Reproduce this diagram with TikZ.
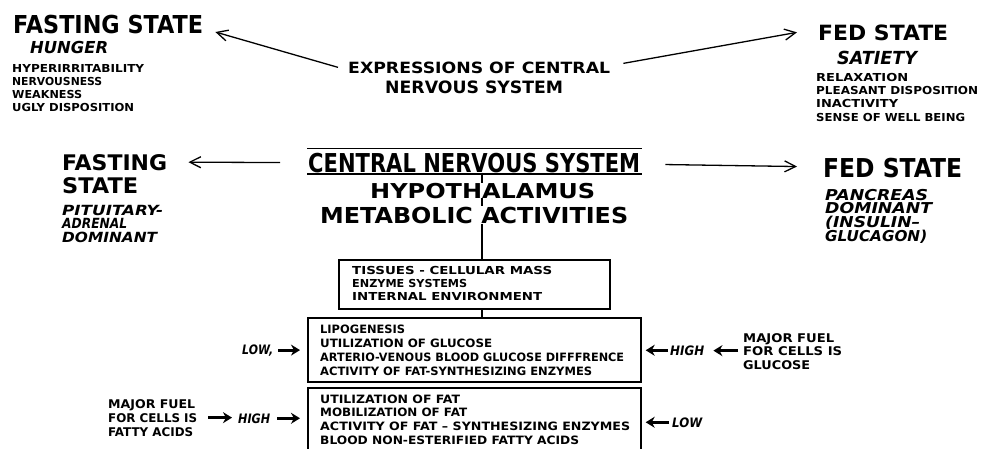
\documentclass[tikz,border=0pt]{standalone}
\usepackage{fontspec}
\setmainfont{DejaVu Sans}
\usepackage{graphicx}
\usetikzlibrary{arrows.meta}
\newsavebox\fitb
\newcommand\fitw[2]{\sbox\fitb{#2}\pgfmathsetmacro\fitf{#1/\wd\fitb}\scalebox{\fitf}[1]{\usebox\fitb}}
\tikzset{
  txt/.style={inner sep=0pt, anchor=base west},
  fs/.style={font=\bfseries\fontsize{#1}{#1}\selectfont},
  fi/.style={font=\bfseries\itshape\fontsize{#1}{#1}\selectfont},
  thinarrow/.style={line width=1.3pt, -{Straight Barb[length=11pt,width=11pt,line width=1.3pt]}},
  fat/.style={line width=3pt, -{Stealth[length=9pt,width=11pt]}},
  conn/.style={line width=1.2pt},
  boxst/.style={draw, line width=1.7pt, inner sep=0pt, anchor=north west},
}
\begin{document}
\begin{tikzpicture}[x=1pt,y=-1pt]
\useasboundingbox (0,0) rectangle (983,448);
\clip (0,0) rectangle (983,448);
% top left
\node[txt,fs=24.7] (fast1) at (13,33) {\fitw{190}{FASTING STATE}};
\node[txt,fi=16.5] (hunger) at (30,53) {\fitw{78}{HUNGER}};
\node[txt,fs=11] (l1) at (12,72) {\fitw{132}{HYPERIRRITABILITY}};
\node[txt,fs=11] (l2) at (12,85) {\fitw{90}{NERVOUSNESS}};
\node[txt,fs=11] (l3) at (12,98) {\fitw{70}{WEAKNESS}};
\node[txt,fs=11] (l4) at (12,111) {\fitw{122}{UGLY DISPOSITION}};
% top right
\node[txt,fs=21] (fed1) at (818,40) {\fitw{130}{FED STATE}};
\node[txt,fi=18] (satiety) at (837,64) {\fitw{80}{SATIETY}};
\node[txt,fs=11] (r1) at (816,81) {\fitw{92}{RELAXATION}};
\node[txt,fs=11] (r2) at (816,94) {\fitw{162}{PLEASANT DISPOSITION}};
\node[txt,fs=11] (r3) at (816,107) {\fitw{82}{INACTIVITY}};
\node[txt,fs=11] (r4) at (816,121) {\fitw{149}{SENSE OF WELL BEING}};
% top centre
\node[txt,fs=15.5] (exp1) at (348,73) {\fitw{262}{EXPRESSIONS OF CENTRAL}};
\node[txt,fs=17] (exp2) at (385,93) {\fitw{178}{NERVOUS SYSTEM}};
\draw[thinarrow] ([xshift=-10pt]exp1.west) -- ([xshift=12pt,yshift=-8pt]fast1.east);
\draw[thinarrow] ([xshift=13pt,yshift=4pt]exp1.east) -- ([xshift=-21pt]fed1.west);
% row 2 left
\node[txt,fs=21.5] (fast2a) at (62,170) {\fitw{105}{FASTING}};
\node[txt,fs=21.5] (fast2b) at (62,193) {\fitw{76}{STATE}};
\node[txt,fi=14] (pit1) at (62,215) {\fitw{101}{PITUITARY-}};
\node[txt,fi=14] (pit2) at (62,228.5) {\fitw{65}{ADRENAL}};
\node[txt,fi=14] (pit3) at (62,242) {\fitw{95}{DOMINANT}};
% row 2 centre
\node[txt,fs=26] (cns) at (308,172) {\fitw{332}{CENTRAL NERVOUS SYSTEM}};
\draw[conn] ([xshift=-1pt,yshift=4pt]cns.north west) -- ([xshift=2pt,yshift=4pt]cns.north east);
\draw[conn] ([xshift=-1pt,yshift=-1.5pt]cns.south west) -- ([xshift=2pt,yshift=-1.5pt]cns.south east);
% row 2 right
\node[txt,fs=26] (fed2) at (823,177) {\fitw{139}{FED STATE}};
\node[txt,fi=15] (pan1) at (825,200) {\fitw{103}{PANCREAS}};
\node[txt,fi=15] (pan2) at (825,213.5) {\fitw{107}{DOMINANT}};
\node[txt,fi=15] (pan3) at (825,227) {\fitw{95}{(INSULIN–}};
\node[txt,fi=15] (pan4) at (825,241) {\fitw{102}{GLUCAGON)}};
\draw[thinarrow] ([xshift=-28pt]cns.west) -- ([xshift=21pt]fast2a.east);
\draw[thinarrow] ([xshift=25pt,yshift=-2pt]cns.east) -- ([xshift=-26pt,yshift=1pt]fed2.west);
% spine
\node[txt,fs=20.5] (hyp) at (370,198) {\fitw{225}{HYPOTHALAMUS}};
\node[txt,fs=22] (met) at (320,223) {\fitw{308}{METABOLIC ACTIVITIES}};
\coordinate (spine) at (482,0);
% boxes
\node[boxst, minimum width=271pt, minimum height=49pt] (box1) at (338,259) {};
\node[txt,fs=11] (b1a) at (352,274) {\fitw{200}{TISSUES - CELLULAR MASS}};
\node[txt,fs=11] (b1b) at (352,287) {\fitw{115}{ENZYME SYSTEMS}};
\node[txt,fs=11] (b1c) at (352,300) {\fitw{190}{INTERNAL ENVIRONMENT}};
\node[boxst, minimum width=333pt, minimum height=64pt] (box2) at (307,317) {};
\node[txt,fs=11.5] (b2a) at (320,333) {\fitw{85}{LIPOGENESIS}};
\node[txt,fs=11.5] (b2b) at (320,347) {\fitw{172}{UTILIZATION OF GLUCOSE}};
\node[txt,fs=11.5] (b2c) at (320,361) {\fitw{304}{ARTERIO-VENOUS BLOOD GLUCOSE DIFFFRENCE}};
\node[txt,fs=11.5] (b2d) at (320,375) {\fitw{272}{ACTIVITY OF FAT-SYNTHESIZING ENZYMES}};
\node[boxst, minimum width=333pt, minimum height=90pt] (box3) at (307,387) {};
\node[txt,fs=11.5] (b3a) at (320,403) {\fitw{140}{UTILIZATION OF FAT}};
\node[txt,fs=11.5] (b3b) at (320,416) {\fitw{147}{MOBILIZATION OF FAT}};
\node[txt,fs=11.5] (b3c) at (320,430) {\fitw{310}{ACTIVITY OF FAT – SYNTHESIZING ENZYMES}};
\node[txt,fs=11.5] (b3d) at (320,444) {\fitw{259}{BLOOD NON-ESTERIFIED FATTY ACIDS}};
\draw[conn] (cns.south -| spine) -- (hyp.north -| spine);
\draw[conn] (hyp.south -| spine) -- (met.north -| spine);
\draw[conn] (met.south -| spine) -- (box1.north -| spine);
\draw[conn] (box1.south -| spine) -- (box2.north -| spine);
% left side
\node[txt,fi=13] (lowL) at (242,354) {\fitw{31}{LOW,}};
\draw[fat, shorten <=5pt, shorten >=7pt] (lowL.east) -- (lowL.east -| box2.west);
\node[txt,fs=12] (mfL1) at (108,408) {\fitw{87}{MAJOR FUEL}};
\node[txt,fs=12] (mfL2) at (108,422) {\fitw{89}{FOR CELLS IS}};
\node[txt,fs=12] (mfL3) at (108,436) {\fitw{85}{FATTY ACIDS}};
\node[txt,fi=13] (hiL) at (238,423) {\fitw{32}{HIGH}};
\draw[fat, shorten <=11pt, shorten >=6pt] (mfL2.east) -- (mfL2.east -| hiL.west);
\draw[fat, shorten <=7pt, shorten >=7pt] (hiL.east) -- (hiL.east -| box3.west);
% right side
\node[txt,fi=13] (hiR) at (670,355) {\fitw{34}{HIGH}};
\draw[fat, shorten <=2pt, shorten >=4pt] (hiR.west) -- (hiR.west -| box2.east);
\node[txt,fs=12] (mfR1) at (743,342) {\fitw{91}{MAJOR FUEL}};
\node[txt,fs=12] (mfR2) at (743,355) {\fitw{99}{FOR CELLS IS}};
\node[txt,fs=12] (mfR3) at (743,369) {\fitw{67}{GLUCOSE}};
\draw[fat, shorten <=5pt, shorten >=9pt] (mfR2.west) -- (mfR2.west -| hiR.east);
\node[txt,fi=13] (lowR) at (672,427) {\fitw{30}{LOW}};
\draw[fat, shorten <=3pt, shorten >=4pt] (lowR.west) -- (lowR.west -| box3.east);
\end{tikzpicture}
\end{document}
